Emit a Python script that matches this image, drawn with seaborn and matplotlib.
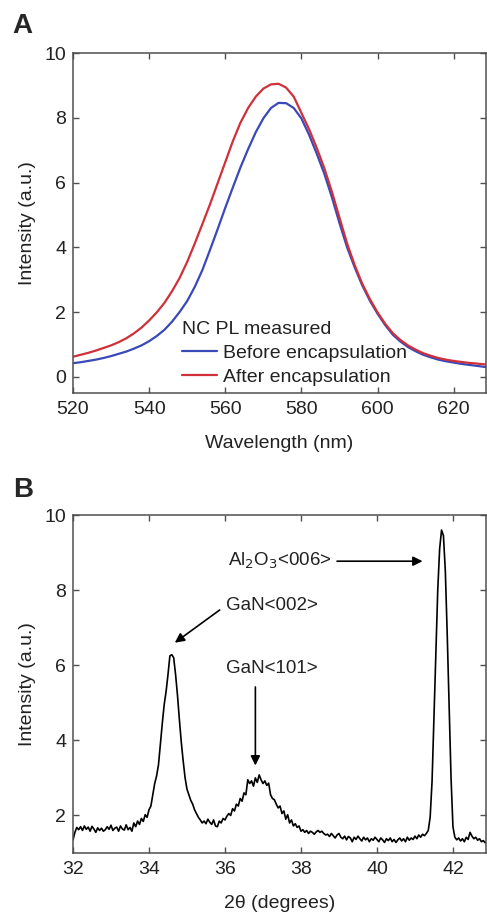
import numpy as np
import matplotlib
matplotlib.use("Agg")
import matplotlib.pyplot as plt
import seaborn as sns

sns.set_theme(style="ticks")
plt.rcParams['font.family'] = ['Liberation Sans', 'DejaVu Sans']

# panel A: NC photoluminescence spectra
wavelength = [520, 522, 524, 526, 528, 530, 532, 534, 536, 538, 540, 542, 544,
              546, 548, 550, 552, 554, 556, 558, 560, 562, 564, 566, 568, 570,
              572, 574, 576, 578, 580, 582, 584, 586, 588, 590, 592, 594, 596,
              598, 600, 602, 604, 606, 608, 610, 612, 614, 616, 618, 620, 622,
              624, 626, 628.5]
pl_before = [0.42, 0.45, 0.49, 0.53, 0.58, 0.64, 0.71, 0.78, 0.87, 0.97, 1.10,
             1.26, 1.45, 1.70, 2.00, 2.34, 2.78, 3.30, 3.92, 4.56, 5.22, 5.85,
             6.47, 7.03, 7.55, 7.98, 8.30, 8.46, 8.45, 8.30, 7.98, 7.48, 6.90,
             6.28, 5.55, 4.75, 4.00, 3.38, 2.82, 2.35, 1.95, 1.60, 1.30, 1.09,
             0.92, 0.79, 0.68, 0.60, 0.53, 0.48, 0.44, 0.40, 0.37, 0.34, 0.30]
pl_after = [0.62, 0.68, 0.74, 0.81, 0.89, 0.97, 1.07, 1.19, 1.34, 1.52, 1.74,
            1.99, 2.28, 2.64, 3.05, 3.55, 4.12, 4.72, 5.33, 5.98, 6.63, 7.28,
            7.85, 8.30, 8.65, 8.90, 9.03, 9.05, 8.93, 8.65, 8.15, 7.65, 7.08,
            6.45, 5.72, 4.92, 4.12, 3.45, 2.87, 2.40, 1.99, 1.64, 1.35, 1.14,
            0.97, 0.84, 0.73, 0.65, 0.58, 0.53, 0.49, 0.46, 0.43, 0.41, 0.38]

# panel B: XRD scan, 0.05 degree steps starting at 32.00
xrd_intensity = [
    1.35, 1.55, 1.68, 1.62, 1.70, 1.60, 1.72, 1.63, 1.69, 1.58,
    1.71, 1.64, 1.55, 1.67, 1.60, 1.66, 1.58, 1.62, 1.70, 1.63,
    1.74, 1.60, 1.66, 1.69, 1.58, 1.72, 1.64, 1.61, 1.75, 1.62,
    1.68, 1.58, 1.80, 1.70, 1.85, 1.76, 1.92, 1.84, 2.02, 1.95,
    2.15, 2.25, 2.55, 2.85, 3.05, 3.35, 3.90, 4.45, 4.95, 5.30,
    5.75, 6.25, 6.28, 6.20, 5.75, 5.20, 4.55, 3.95, 3.45, 3.00,
    2.70, 2.55, 2.40, 2.30, 2.15, 2.05, 1.95, 1.88, 1.80, 1.85,
    1.78, 1.90, 1.82, 1.76, 1.88, 1.72, 1.70, 1.85, 1.80, 1.92,
    1.88, 1.98, 2.05, 2.00, 2.18, 2.12, 2.30, 2.25, 2.45, 2.38,
    2.60, 2.55, 2.95, 2.85, 2.92, 2.78, 3.00, 2.88, 3.08, 2.95,
    2.85, 2.92, 2.80, 2.86, 2.55, 2.45, 2.42, 2.30, 2.20, 2.25,
    2.05, 2.12, 1.90, 2.02, 1.80, 1.88, 1.72, 1.78, 1.68, 1.72,
    1.58, 1.62, 1.55, 1.60, 1.52, 1.58, 1.55, 1.50, 1.56, 1.60,
    1.55, 1.58, 1.52, 1.48, 1.50, 1.44, 1.52, 1.46, 1.40, 1.48,
    1.52, 1.42, 1.38, 1.45, 1.35, 1.44, 1.40, 1.30, 1.42, 1.36,
    1.45, 1.38, 1.32, 1.42, 1.35, 1.40, 1.30, 1.38, 1.34, 1.42,
    1.36, 1.30, 1.40, 1.35, 1.28, 1.38, 1.33, 1.40, 1.30, 1.36,
    1.28, 1.35, 1.40, 1.32, 1.38, 1.30, 1.42, 1.34, 1.40, 1.36,
    1.45, 1.38, 1.48, 1.42, 1.50, 1.46, 1.52, 1.60, 1.95, 2.90,
    4.60, 6.30, 8.00, 9.10, 9.60, 9.45, 8.50, 6.80, 4.90, 3.00,
    1.70, 1.42, 1.35, 1.40, 1.32, 1.38, 1.30, 1.42, 1.36, 1.55,
    1.45, 1.38, 1.42, 1.34, 1.38, 1.30, 1.33, 1.27, 1.30,
]
two_theta = np.round(32.0 + 0.05 * np.arange(len(xrd_intensity)), 2)

W, H = 487, 913
fig = plt.figure(figsize=(W / 100, H / 100), dpi=100)

spine_col = '#505050'
txt_col = '#222222'
fs = 14


def style_axes(ax):
    for s in ax.spines.values():
        s.set_color(spine_col)
        s.set_linewidth(1.1)
        s.set_visible(True)
    ax.tick_params(direction='in', length=4, width=1.0, color=spine_col,
                   top=True, right=True, labelsize=fs, labelcolor=txt_col, pad=5)
    ax.tick_params(axis='x', pad=6)


# ---- panel A ----
axA = fig.add_axes([73 / W, 1 - 393 / H, 413 / W, 340 / H])
sns.lineplot(x=wavelength, y=pl_before, ax=axA, color='#3949b8', lw=1.6,
             label='Before encapsulation')
sns.lineplot(x=wavelength, y=pl_after, ax=axA, color='#d0303a', lw=1.6,
             label='After encapsulation')
axA.set_xlim(520, 628.5)
axA.set_ylim(-0.5, 10)
axA.set_xticks(range(520, 621, 20))
axA.set_yticks(range(0, 11, 2))
axA.set_xlabel('Wavelength (nm)', fontsize=fs, labelpad=12, color=txt_col)
axA.set_ylabel('Intensity (a.u.)', fontsize=fs, labelpad=6, color=txt_col)
style_axes(axA)
leg = axA.legend(title='NC PL measured', loc='upper left',
                 bbox_to_anchor=(0.241, 0.24), frameon=False, fontsize=fs,
                 title_fontsize=fs, borderpad=0, handlelength=1.8,
                 handletextpad=0.3, labelspacing=0.33, alignment='left')
leg.get_title().set_color(txt_col)
for t in leg.get_texts():
    t.set_color(txt_col)

# ---- panel B ----
axB = fig.add_axes([73 / W, 1 - 853 / H, 413 / W, 338 / H])
sns.lineplot(x=two_theta, y=xrd_intensity, ax=axB, color='black', lw=1.2)
axB.set_xlim(32, 42.87)
axB.set_ylim(1, 10)
axB.set_xticks(range(32, 43, 2))
axB.set_yticks(range(2, 11, 2))
axB.set_xlabel('2θ (degrees)', fontsize=fs, labelpad=12, color=txt_col)
axB.set_ylabel('Intensity (a.u.)', fontsize=fs, labelpad=6, color=txt_col)
style_axes(axB)

arrow = dict(arrowstyle='-|>', color='black', lw=1.2, mutation_scale=14,
             shrinkA=0, shrinkB=0)
afs = 13.5
axB.text(38.8, 8.77, 'Al$_2$O$_3$<006>', fontsize=afs, ha='right', va='center',
         color=txt_col)
axB.annotate('', xy=(41.2, 8.77), xytext=(38.95, 8.77), arrowprops=arrow)
axB.text(36.02, 7.6, 'GaN<002>', fontsize=afs, ha='left', va='center',
         color=txt_col)
axB.annotate('', xy=(34.68, 6.6), xytext=(35.86, 7.47), arrowprops=arrow)
axB.text(36.02, 5.92, 'GaN<101>', fontsize=afs, ha='left', va='center',
         color=txt_col)
axB.annotate('', xy=(36.8, 3.33), xytext=(36.8, 5.42), arrowprops=arrow)

fig.text(12 / W, 1 - 33 / H, 'A', fontsize=20, fontweight='bold', va='baseline')
fig.text(13 / W, 1 - 497 / H, 'B', fontsize=20, fontweight='bold', va='baseline')

fig.savefig('out.png', dpi=100)
